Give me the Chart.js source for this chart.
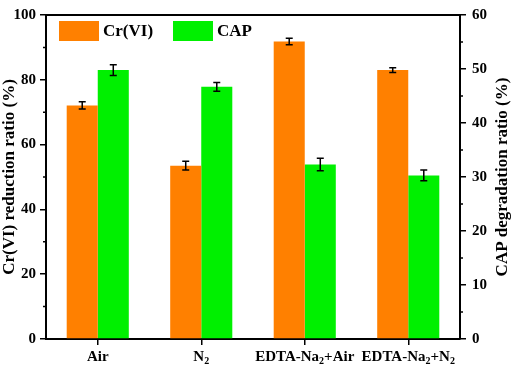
<!DOCTYPE html>
<html>
<head>
<meta charset="utf-8">
<script src="https://cdn.jsdelivr.net/npm/chart.js@4/dist/chart.umd.min.js"></script>
<style>
html, body { margin:0; padding:0; background:#fff; }
</style>
</head>
<body>
<canvas id="bar-chart" width="512" height="365"></canvas>
<script>
var categorias = ['Air', 'N\u2082', 'EDTA-Na\u2082+Air', 'EDTA-Na\u2082+N\u2082'];
var crData = [72.1, 53.5, 91.8, 83.0];
var crErro = [1.1, 1.35, 1.0, 0.75];
var capData = [49.8, 46.7, 32.3, 30.3];
var capErro = [1.0, 0.8, 1.15, 1.0];
var ticksEsq = [0, 20, 40, 60, 80, 100];
var ticksDir = [0, 10, 20, 30, 40, 50, 60];
var minorEsq = [10, 30, 50, 70, 90];
var minorDir = [5, 15, 25, 35, 45, 55];

var fonte = 'Liberation Serif, Times New Roman, serif';

// desenha um rotulo com subscrito (o caractere \u2082 vira um "2" menor e abaixado)
function rotuloSub(ctx, texto, cx, base) {
    var partes = [];
    var atual = '';
    for (var k = 0; k < texto.length; k++) {
        if (texto[k] === '\u2082') {
            if (atual) partes.push({ t: atual, sub: false });
            partes.push({ t: '2', sub: true });
            atual = '';
        } else {
            atual += texto[k];
        }
    }
    if (atual) partes.push({ t: atual, sub: false });
    var total = 0;
    partes.forEach(function(p) {
        ctx.font = p.sub ? 'bold 10px ' + fonte : 'bold 15px ' + fonte;
        p.w = ctx.measureText(p.t).width;
        total += p.w;
    });
    var x = cx - total / 2;
    partes.forEach(function(p) {
        ctx.font = p.sub ? 'bold 10px ' + fonte : 'bold 15px ' + fonte;
        ctx.fillText(p.t, x, p.sub ? base + 3 : base);
        x += p.w;
    });
}

// barras de erro, moldura, ticks menores, titulos e legenda
var extras = {
    id: 'extras',
    afterDatasetsDraw: function(chart) {
        var ctx = chart.ctx;
        ctx.save();
        ctx.strokeStyle = '#000';
        ctx.lineWidth = 1.5;
        chart.data.datasets.forEach(function(ds, i) {
            var meta = chart.getDatasetMeta(i);
            var escala = chart.scales[ds.yAxisID];
            meta.data.forEach(function(bar, j) {
                var topo = escala.getPixelForValue(ds.data[j] + ds.erro[j]);
                var base = escala.getPixelForValue(ds.data[j] - ds.erro[j]);
                ctx.beginPath();
                ctx.moveTo(bar.x, topo); ctx.lineTo(bar.x, base);
                ctx.moveTo(bar.x - 3.5, topo); ctx.lineTo(bar.x + 3.5, topo);
                ctx.moveTo(bar.x - 3.5, base); ctx.lineTo(bar.x + 3.5, base);
                ctx.stroke();
            });
        });
        ctx.restore();
    },
    afterDraw: function(chart) {
        var ctx = chart.ctx, a = chart.chartArea;
        var x = chart.scales.x, y = chart.scales.y, y1 = chart.scales.y1;
        ctx.save();
        ctx.strokeStyle = '#000';
        ctx.lineWidth = 2;
        ctx.beginPath();
        ctx.moveTo(a.left - 1, a.top); ctx.lineTo(a.right + 1, a.top);
        ctx.stroke();

        ctx.lineWidth = 1.5;
        ctx.beginPath();
        minorEsq.forEach(function(v) {
            var p = y.getPixelForValue(v);
            ctx.moveTo(a.left - 3, p); ctx.lineTo(a.left, p);
        });
        minorDir.forEach(function(v) {
            var p = y1.getPixelForValue(v);
            ctx.moveTo(a.right, p); ctx.lineTo(a.right + 3, p);
        });
        ctx.stroke();

        // rotulos do eixo x
        ctx.fillStyle = '#000';
        ctx.textAlign = 'left';
        ctx.textBaseline = 'alphabetic';
        categorias.forEach(function(c, i) {
            rotuloSub(ctx, c, x.getPixelForTick(i), a.bottom + 22);
        });

        // titulos dos eixos
        ctx.font = 'bold 17px ' + fonte;
        ctx.textAlign = 'center';
        ctx.textBaseline = 'middle';
        var meio = (a.top + a.bottom) / 2;
        ctx.save();
        ctx.translate(10, meio);
        ctx.rotate(-Math.PI / 2);
        ctx.fillText('Cr(VI) reduction ratio (%)', 0, 0);
        ctx.restore();
        ctx.save();
        ctx.translate(503, meio);
        ctx.rotate(-Math.PI / 2);
        ctx.fillText('CAP degradation ratio (%)', 0, 0);
        ctx.restore();

        // legenda
        var itens = chart.data.datasets;
        var xs = [a.left + 13, a.left + 127];
        ctx.textAlign = 'left';
        itens.forEach(function(ds, i) {
            ctx.fillStyle = ds.backgroundColor;
            ctx.fillRect(xs[i], a.top + 6, 40, 20);
            ctx.fillStyle = '#000';
            ctx.fillText(ds.label, xs[i] + 44, a.top + 17);
        });
        ctx.restore();
    }
};

const ctx = document.getElementById('bar-chart').getContext('2d');

const chart = new Chart(ctx, {
    type: 'bar',
    data: {
        labels: categorias,
        datasets: [
            {
                label: 'Cr(VI)',
                data: crData,
                erro: crErro,
                yAxisID: 'y',
                backgroundColor: '#ff8000',
                categoryPercentage: 0.6,
                barPercentage: 1.0,
            },
            {
                label: 'CAP',
                data: capData,
                erro: capErro,
                yAxisID: 'y1',
                backgroundColor: '#00f000',
                categoryPercentage: 0.6,
                barPercentage: 1.0,
            },
        ]
    },
    options: {
        responsive: false,
        animation: false,
        layout: { padding: { top: 6, left: 0, right: 0, bottom: 0 } },
        plugins: {
            legend: { display: false },
            tooltip: { enabled: false }
        },
        scales: {
            x: {
                afterFit: function(s) { s.height = 26; },
                grid: { offset: false, drawOnChartArea: false, color: '#000', lineWidth: 1.5, tickLength: 6 },
                border: { color: '#000', width: 2 },
                ticks: { display: false }
            },
            y: {
                position: 'left',
                min: 0, max: 100,
                afterFit: function(s) { s.width = 46; },
                afterBuildTicks: function(s) { s.ticks = ticksEsq.map(function(v) { return { value: v }; }); },
                grid: { drawOnChartArea: false, color: '#000', lineWidth: 1.5, tickLength: 6 },
                border: { color: '#000', width: 2 },
                ticks: { color: '#000', padding: 4, font: { family: fonte, size: 15, weight: 'bold' } }
            },
            y1: {
                position: 'right',
                min: 0, max: 60,
                afterFit: function(s) { s.width = 52; },
                afterBuildTicks: function(s) { s.ticks = ticksDir.map(function(v) { return { value: v }; }); },
                grid: { drawOnChartArea: false, color: '#000', lineWidth: 1.5, tickLength: 6 },
                border: { color: '#000', width: 2 },
                ticks: { color: '#000', padding: 6, font: { family: fonte, size: 15, weight: 'bold' } }
            }
        }
    },
    plugins: [extras]
});
</script>
</body>
</html>
